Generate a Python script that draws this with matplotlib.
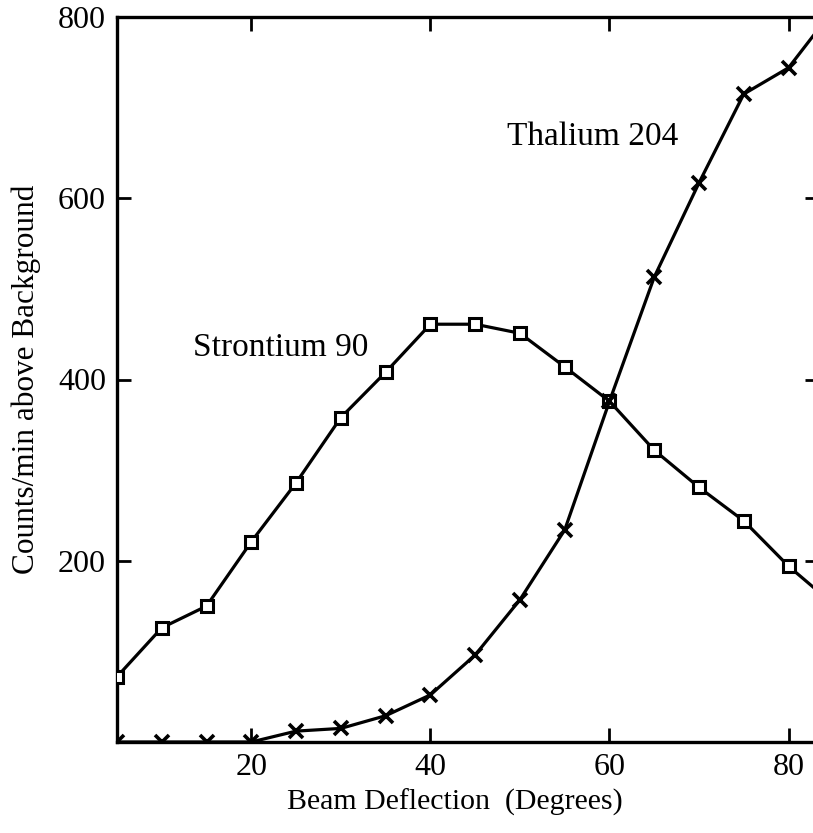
import matplotlib
matplotlib.use("Agg")
import matplotlib.pyplot as plt

deg = [5, 10, 15, 20, 25, 30, 35, 40, 45, 50, 55, 60, 65, 70, 75, 80, 85]
strontium = [72, 126, 150, 221, 286, 358, 408, 461, 461, 451, 414, 376, 322, 281, 244, 194, 152]
thalium = [0, 0, 0, 0, 12, 15, 29, 52, 96, 157, 234, 376, 513, 617, 715, 744, 808]
xticks = [20, 40, 60, 80]
yticks = [200, 400, 600, 800]

plt.rcParams['font.family'] = ['Liberation Serif', 'DejaVu Serif']

W, H = 813, 833
fig = plt.figure(figsize=(W / 100, H / 100), dpi=100)
left, right, top, bottom = 117, 819, 17, 742
ax = fig.add_axes([left / W, (H - bottom) / H, (right - left) / W, (bottom - top) / H])

ax.plot(deg, strontium, color='black', lw=2.3, marker='s', ms=8, mfc='white',
        mec='black', mew=2.2, clip_on=True, zorder=3)
ax.plot(deg, thalium, color='black', lw=2.3, marker='x', ms=10, mew=2.6,
        clip_on=True, zorder=3)

ax.set_xlim(5, 83.4)
ax.set_ylim(0, 800)
ax.set_xticks(xticks)
ax.set_yticks(yticks)
ax.tick_params(direction='in', length=10, width=2, top=True, right=True,
               labelsize=23, pad=8, colors='black')
for s in ax.spines.values():
    s.set_linewidth(2.4)

ax.set_xlabel('Beam Deflection  (Degrees)', fontsize=21.5, labelpad=8)
ax.xaxis.set_label_coords(0.482, -0.065)
ax.set_ylabel('Counts/min above Background', fontsize=22.5, labelpad=12)

ax.text(58.1, 668, 'Thalium 204', fontsize=24, ha='center', va='center')
ax.text(23.3, 435, 'Strontium 90', fontsize=24, ha='center', va='center')

fig.savefig('out.png', dpi=100)
